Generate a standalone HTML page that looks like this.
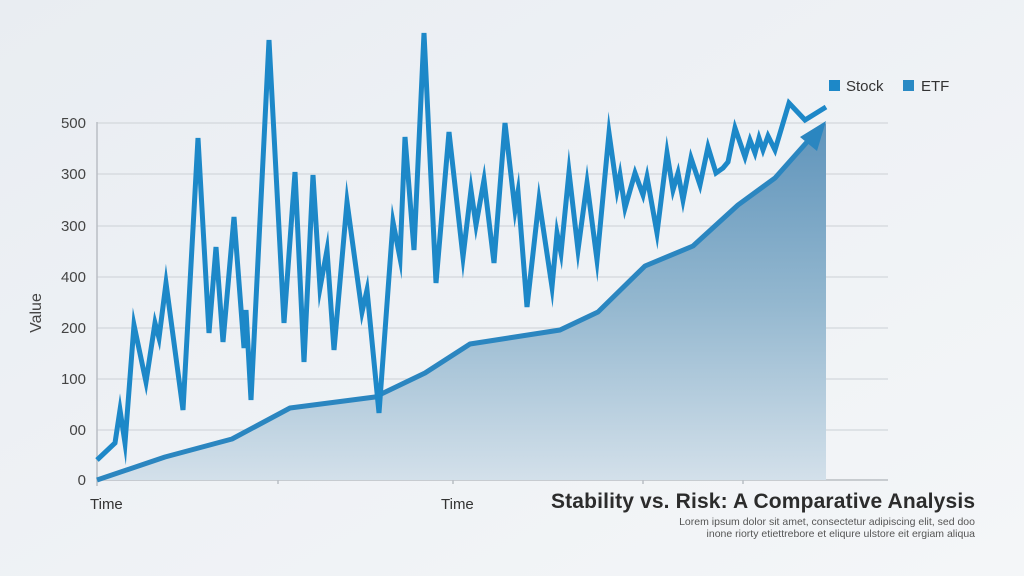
<!DOCTYPE html>
<html><head><meta charset="utf-8"><style>
body{margin:0;background:#eef1f5;}
svg{display:block;font-family:"Liberation Sans",Arial,sans-serif;}
</style></head><body>
<svg width="1024" height="576" viewBox="0 0 1024 576">
<defs>
<linearGradient id="bg" x1="0" y1="0" x2="1" y2="1"><stop offset="0" stop-color="#e9edf2"/><stop offset="1" stop-color="#f4f6f8"/></linearGradient>
<linearGradient id="fill" x1="0" y1="0" x2="0" y2="1"><stop offset="0" stop-color="#5f94bb"/><stop offset="0.5" stop-color="#93b7cf"/><stop offset="1" stop-color="#d3e0ea"/></linearGradient>
</defs>
<rect width="1024" height="576" fill="url(#bg)"/>
<g stroke="#d3d7dc" stroke-width="1.2">
<line x1="97" y1="123" x2="888" y2="123"/><line x1="97" y1="174" x2="888" y2="174"/>
<line x1="97" y1="226" x2="888" y2="226"/><line x1="97" y1="277" x2="888" y2="277"/>
<line x1="97" y1="328" x2="888" y2="328"/><line x1="97" y1="379" x2="888" y2="379"/>
<line x1="97" y1="430" x2="888" y2="430"/>
</g>
<g stroke="#b9bec4" stroke-width="1.5">
<line x1="97" y1="480" x2="888" y2="480"/><line x1="97" y1="122" x2="97" y2="486"/>
<line x1="278" y1="476" x2="278" y2="484"/><line x1="453" y1="476" x2="453" y2="484"/>
<line x1="643" y1="476" x2="643" y2="484"/><line x1="743" y1="476" x2="743" y2="484"/>
</g>
<g fill="#444" font-size="15" text-anchor="end">
<text x="86" y="128">500</text><text x="86" y="179">300</text><text x="86" y="231">300</text>
<text x="86" y="282">400</text><text x="86" y="333">200</text><text x="86" y="384">100</text>
<text x="86" y="435">00</text><text x="86" y="485">0</text>
</g>
<text x="41" y="313" fill="#444" font-size="16" transform="rotate(-90 41 313)" text-anchor="middle">Value</text>
<text x="90" y="509" fill="#333" font-size="15">Time</text>
<text x="441" y="509" fill="#333" font-size="15">Time</text>
<polygon fill="url(#fill)" points="97,480 165,457 232,439 290,408 375,397 425,373 470,344 560,330 598,312 645,266 693,246 738,205 775,178 805,143 826,123 826,480"/>
<polyline fill="none" stroke="#2b86c0" stroke-width="5" stroke-linejoin="round" points="97,480 165,457 232,439 290,408 375,397 425,373 470,344 560,330 598,312 645,266 693,246 738,205 775,178 815,133"/>
<polygon fill="#2b86c0" points="826,121 800,137 817,151"/>
<polyline fill="none" stroke="#1d88c8" stroke-width="5" stroke-linejoin="miter" stroke-miterlimit="10" points="97,460 115,443 120,410 125,443 134,325 146,382 155,323 159,338 166,283 183,410 198,138 209,333 216,247 223,342 234,217 244,348 246,310 251,400 269,40 284,323 295,172 304,362 313,175 320,288 327,250 334,350 347,202 362,312 367,290 379,413 393,222 400,258 405,137 414,250 424,33 436,283 449,132 463,257 471,190 476,225 484,180 494,263 505,123 515,210 518,192 527,307 539,200 552,287 557,233 561,253 569,172 578,250 587,183 597,260 609,133 617,190 620,175 625,208 635,173 643,195 647,177 657,233 667,153 673,190 678,173 683,200 691,158 700,185 708,147 716,173 723,168 728,162 735,128 745,157 750,140 755,153 759,138 763,150 768,136 775,150 789,103 805,120 826,107"/>
<rect x="829" y="80" width="11" height="11" fill="#1d88c8"/>
<text x="846" y="91" fill="#333" font-size="15">Stock</text>
<rect x="903" y="80" width="11" height="11" fill="#2a8ac4"/>
<text x="921" y="91" fill="#333" font-size="15">ETF</text>
<text x="975" y="508" text-anchor="end" fill="#2c2c2c" font-size="21" font-weight="bold" textLength="424">Stability vs. Risk: A Comparative Analysis</text>
<text x="975" y="525" text-anchor="end" fill="#555" font-size="10.5">Lorem ipsum dolor sit amet, consectetur adipiscing elit, sed doo</text>
<text x="975" y="537" text-anchor="end" fill="#555" font-size="10.5">inone riorty etiettrebore et eliqure ulstore eit ergiam aliqua</text>
</svg>
</body></html>
